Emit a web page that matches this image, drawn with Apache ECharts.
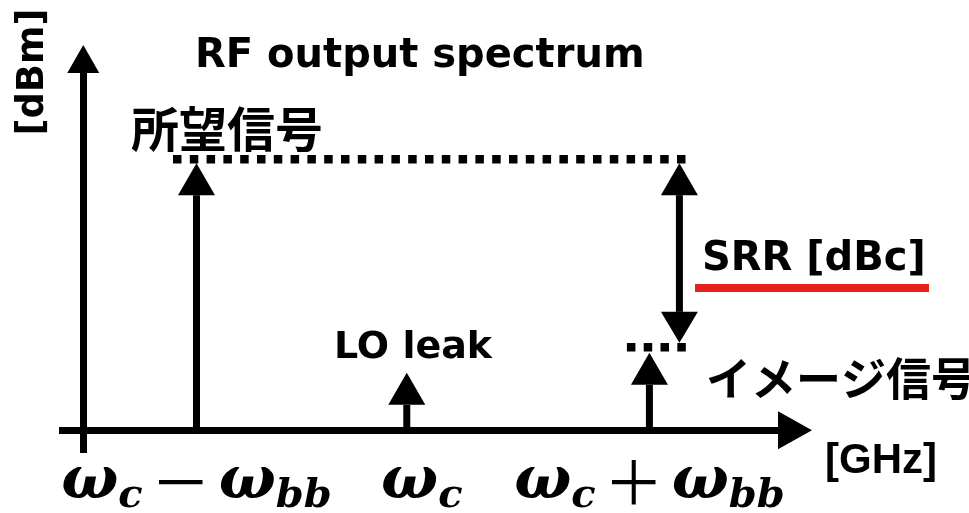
<!DOCTYPE html>
<html>
<head>
<meta charset="utf-8">
<script src="https://cdn.jsdelivr.net/npm/echarts@6/dist/echarts.min.js"></script>
<style>
  html, body { margin: 0; padding: 0; background: #fff; }
  #chart { width: 969px; height: 513px; }
</style>
</head>
<body>
<div id="chart"></div>
<script>
// Spectral tones of the RF output (frequency position, relative level)
const toneNames = ['所望信号', 'LO leak', 'イメージ信号'];
const toneFreq = [3.5, 10, 17.5];
const toneLevel = [10, 2.15, 2.9];

// Frequency tick labels (rich text: ω with subscripts)
const tickLabels = [
  '{w|ω}{s|c}{op|－}{w|ω}{s|bb}',
  '{wc|ω}{s|c}',
  '{w|ω}{s|c}{op|＋}{w|ω}{s|bb}'
];

const titleText = 'RF output spectrum';
const xName = '[GHz]';
const yName = '[dBm]';
const srrText = 'SRR [dBc]';

const BLACK = '#000';
const RED = '#e3231b';
const SANS = 'DejaVu Sans';
const CJK = 'Noto Sans CJK JP';

const chart = echarts.init(document.getElementById('chart'));

// Vertical line with a filled triangular head at its tip
function arrowUp(x, yBase, yTip, headLen, headW) {
  return [
    { type: 'line', shape: { x1: x, y1: yBase, x2: x, y2: yTip + headLen },
      style: { stroke: BLACK, lineWidth: 7 } },
    { type: 'polygon', shape: { points: [[x, yTip], [x - headW / 2, yTip + headLen], [x + headW / 2, yTip + headLen]] },
      style: { fill: BLACK } }
  ];
}

const omegaStyle = { fontFamily: 'DejaVu Serif', fontStyle: 'italic', fontWeight: 'bold', fontSize: 60, color: BLACK };

const option = {
  backgroundColor: '#fff',
  animation: false,
  title: {
    text: titleText,
    left: 190,
    top: 32,
    textStyle: { fontFamily: SANS, fontWeight: 'bold', fontSize: 40, color: BLACK }
  },
  grid: { left: 59, right: 174, top: 59, bottom: 60, containLabel: false, outerBoundsMode: 'none' },
  xAxis: {
    type: 'value',
    min: -0.75,
    max: 22,
    name: xName,
    nameLocation: 'end',
    nameGap: 30,
    nameTextStyle: { fontFamily: 'Liberation Sans', fontWeight: 'bold', fontSize: 42, color: BLACK,
      verticalAlign: 'top', padding: [10, 0, 0, 0] },
    axisLine: { onZero: true, symbol: ['none', 'triangle'], symbolSize: [38, 34],
      lineStyle: { color: BLACK, width: 7, cap: 'butt' } },
    axisTick: { show: false },
    splitLine: { show: false },
    axisLabel: {
      customValues: toneFreq,
      margin: -6,
      formatter: function (v) {
        const i = toneFreq.indexOf(v);
        return i >= 0 ? tickLabels[i] : '';
      },
      rich: {
        w: omegaStyle,
        wc: Object.assign({}, omegaStyle, { padding: [0, 0, 0, 30] }),
        s: { fontFamily: 'DejaVu Serif', fontStyle: 'italic', fontWeight: 'bold', fontSize: 40, color: BLACK,
          padding: [30, 0, 0, 0] },
        op: { fontFamily: CJK, fontWeight: 'normal', fontSize: 60, color: BLACK, padding: [0, 8, 0, 8] }
      }
    }
  },
  yAxis: {
    type: 'value',
    min: -0.85,
    max: 13.9,
    axisLine: { show: true, onZero: true, symbol: ['none', 'triangle'], symbolSize: [32, 28],
      lineStyle: { color: BLACK, width: 7, cap: 'butt' } },
    axisTick: { show: false },
    axisLabel: { show: false },
    splitLine: { show: false }
  },
  series: [
    {
      // the three spectral tones
      type: 'custom',
      coordinateSystem: 'cartesian2d',
      data: toneFreq.map((f, i) => [f, toneLevel[i]]),
      renderItem: function (params, api) {
        const base = api.coord([api.value(0), 0]);
        const tip = api.coord([api.value(0), api.value(1)]);
        return { type: 'group', children: arrowUp(tip[0], base[1], tip[1], 32, 37) };
      },
      z: 5
    },
    {
      // reference levels and the sideband-rejection span between them
      type: 'custom',
      coordinateSystem: 'cartesian2d',
      data: [[toneFreq[0], toneLevel[0], toneFreq[2], toneLevel[2]]],
      renderItem: function (params, api) {
        const want = api.coord([api.value(0), api.value(1)]);
        const img = api.coord([api.value(2), api.value(3)]);
        const ax = img[0] + 30;
        const yTop = want[1];
        const yBot = img[1] - 10;
        const dot = { stroke: BLACK, lineWidth: 8.5, lineDash: [8.5, 8.3] };
        return {
          type: 'group',
          children: [
            { type: 'line', shape: { x1: want[0] - 23.5, y1: want[1] - 4, x2: ax + 13, y2: want[1] - 4 }, style: dot },
            { type: 'line', shape: { x1: img[0] - 22.5, y1: img[1] - 5.5, x2: img[0] + 37, y2: img[1] - 5.5 }, style: dot },
            { type: 'line', shape: { x1: ax, y1: yTop + 32, x2: ax, y2: yBot - 31 }, style: { stroke: BLACK, lineWidth: 7 } },
            { type: 'polygon', shape: { points: [[ax, yTop], [ax - 18.5, yTop + 32], [ax + 18.5, yTop + 32]] }, style: { fill: BLACK } },
            { type: 'polygon', shape: { points: [[ax, yBot], [ax - 18.5, yBot - 31], [ax + 18.5, yBot - 31]] }, style: { fill: BLACK } }
          ]
        };
      },
      z: 4
    }
  ],
  graphic: [
    { type: 'text', x: 33, y: 72, rotation: Math.PI / 2,
      style: { text: yName, font: 'bold 37px "DejaVu Sans"', fill: BLACK, align: 'center', verticalAlign: 'middle' } },
    { type: 'text', x: 131, y: 129,
      style: { text: toneNames[0], font: 'bold 48px "Noto Sans CJK JP"', fill: BLACK, align: 'left', verticalAlign: 'middle' } },
    { type: 'text', x: 334, y: 329,
      style: { text: toneNames[1], font: 'bold 38px "DejaVu Sans"', fill: BLACK, align: 'left', verticalAlign: 'top' } },
    { type: 'text', x: 706, y: 379,
      style: { text: toneNames[2], font: 'bold 45px "Noto Sans CJK JP"', fill: BLACK, align: 'left', verticalAlign: 'middle' } },
    { type: 'text', x: 702, y: 240,
      style: { text: srrText, font: 'bold 40px "DejaVu Sans"', fill: BLACK, align: 'left', verticalAlign: 'top' } },
    { type: 'rect', shape: { x: 695, y: 284, width: 234, height: 8 }, style: { fill: RED } }
  ]
};

chart.setOption(option);
</script>
</body>
</html>
